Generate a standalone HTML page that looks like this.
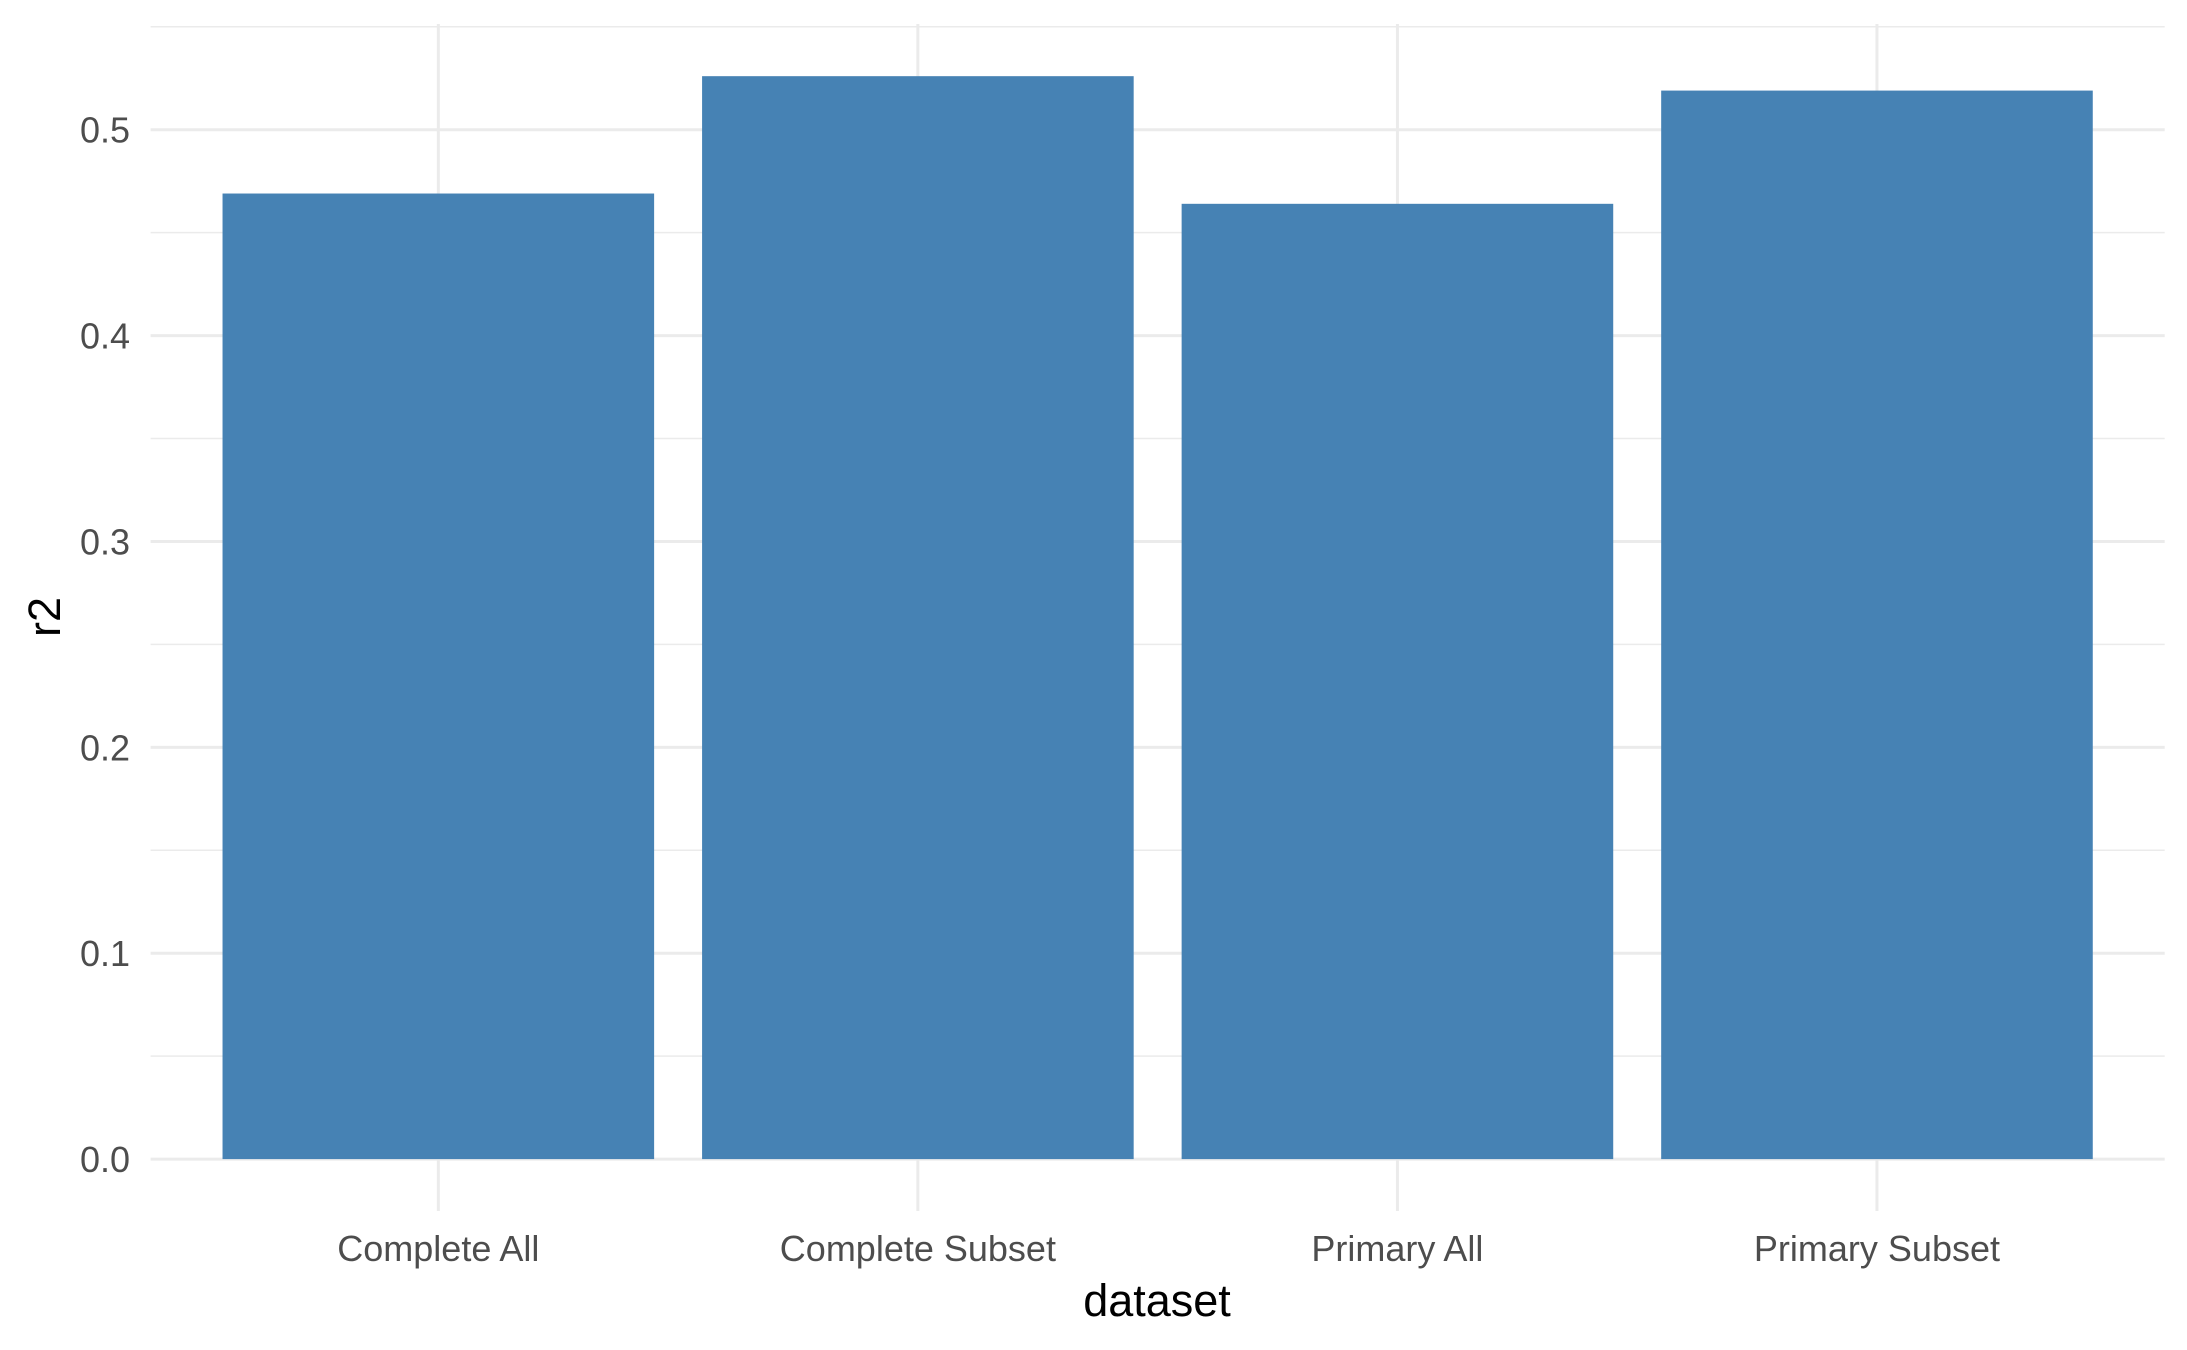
<!DOCTYPE html>
<html><head><meta charset="utf-8"><style>
html,body{margin:0;padding:0;background:#fff;}
svg{display:block;font-family:"Liberation Sans",sans-serif;}
</style></head><body>
<svg id="chart" width="2187" height="1350" viewBox="0 0 2187 1350" xmlns="http://www.w3.org/2000/svg">
<g id="grid"></g>
<g id="bars"></g>
<g id="yticks"></g>
<g id="xticks"></g>
<text x="1157" y="1316" font-size="45" text-anchor="middle" fill="#000">dataset</text>
<text x="0" y="0" font-size="45" text-anchor="middle" fill="#000" transform="translate(60,617) rotate(-90)">r2</text>
</svg>
<script>
const categories = ["Complete All","Complete Subset","Primary All","Primary Subset"];
const values = [0.469, 0.526, 0.464, 0.519];
const yTicks = [0, 0.1, 0.2, 0.3, 0.4, 0.5];
const yTickLabels = ["0.0","0.1","0.2","0.3","0.4","0.5"];

const NS = "http://www.w3.org/2000/svg";
const pL = 150.6, pR = 2164.7, pT = 24, pB = 1211;
const y0px = 1159.1, unitPx = 2058.8;
const step = (pR - pL) / (categories.length + 0.2);
function xScale(i){ return pL + step * (i + 0.6); }
function yScale(v){ return y0px - v * unitPx; }
function mk(tag, attrs, parent){
  const el = document.createElementNS(NS, tag);
  for (const k in attrs) el.setAttribute(k, attrs[k]);
  parent.appendChild(el);
  return el;
}
const gridG = document.getElementById("grid");
const barsG = document.getElementById("bars");
const ytG = document.getElementById("yticks");
const xtG = document.getElementById("xticks");
for (let i = 0; i < yTicks.length; i++) {
  const v = yTicks[i] + 0.05;
  const yy = yScale(v);
  if (yy < pT) continue;
  const l = mk("line", {x1:pL, x2:pR, y1:yy, y2:yy, stroke:"#ebebeb", "stroke-width":1.5}, gridG);
  
  
}
yTicks.forEach((v, i) => {
  const yy = yScale(v);
  const l = mk("line", {x1:pL, x2:pR, y1:yy, y2:yy, stroke:"#ebebeb", "stroke-width":3}, gridG);
  
  
  const t = mk("text", {x:130, y:yy + 13, "font-size":36, "text-anchor":"end", fill:"#4d4d4d"}, ytG);
  t.textContent = yTickLabels[i];
  
  
});
categories.forEach((c, i) => {
  const cx = xScale(i);
  const l = mk("line", {x1:cx, x2:cx, y1:pT, y2:pB, stroke:"#ebebeb", "stroke-width":3}, gridG);
  
  
  const w = step * 0.9;
  const r = mk("rect", {x:cx - w/2, y:yScale(values[i]), width:w, height:yScale(0) - yScale(values[i]), fill:"#4682b4"}, barsG);
  
  
  const t = mk("text", {x:cx, y:1261, "font-size":36, "text-anchor":"middle", fill:"#4d4d4d"}, xtG);
  t.textContent = c;
  
  
});
</script>
</body></html>
